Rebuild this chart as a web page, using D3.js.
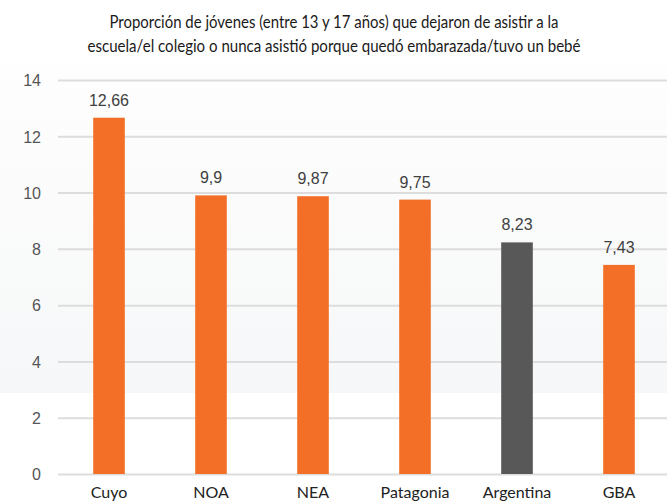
<!DOCTYPE html>
<html>
<head>
<meta charset="utf-8">
<script src="https://cdn.jsdelivr.net/npm/d3@7/dist/d3.min.js"></script>
<style>
  html, body { margin: 0; padding: 0; background: #ffffff; }
  svg { display: block; }
</style>
</head>
<body>
<svg id="chart" width="667" height="503"></svg>
<script>
// Regions and the share of young people (13-17) who left school due to pregnancy/birth
const categories = ["Cuyo", "NOA", "NEA", "Patagonia", "Argentina", "GBA"];
const values = [12.66, 9.9, 9.87, 9.75, 8.23, 7.43];
const valueLabels = ["12,66", "9,9", "9,87", "9,75", "8,23", "7,43"];
const yTicks = [0, 2, 4, 6, 8, 10, 12, 14];
const titleLines = [
  "Proporción de jóvenes (entre 13 y 17 años) que dejaron de asistir a la",
  "escuela/el colegio o nunca asistió porque quedó embarazada/tuvo un bebé"
];

const W = 667, H = 503;
const plot = { left: 58, right: 670, top: 80, bottom: 474 };
const orange = "#f36f27";
const grey = "#575857";

const svg = d3.select("#chart");

// soft backdrop behind the upper plot area
const defs = svg.append("defs");
const grad = defs.append("linearGradient")
  .attr("id", "bg").attr("x1", 0).attr("y1", 0).attr("x2", 0).attr("y2", 1);
grad.append("stop").attr("offset", "0%").attr("stop-color", "#fefefe");
grad.append("stop").attr("offset", "100%").attr("stop-color", "#f6f7f8");
svg.append("rect")
  .attr("x", 0).attr("y", 62).attr("width", W).attr("height", 331)
  .attr("fill", "url(#bg)");

const x = d3.scaleBand()
  .domain(categories)
  .range([plot.left, plot.right])
  .paddingInner(0.69)
  .paddingOuter(0.345);

const y = d3.scaleLinear()
  .domain([0, 14])
  .range([plot.bottom, plot.top]);

// horizontal gridlines + tick labels
const yAxis = d3.axisLeft(y).tickValues(yTicks).tickSize(0).tickPadding(0)
  .tickFormat(d3.format("d"));
const gy = svg.append("g").attr("transform", `translate(${plot.left},0)`).call(yAxis);
gy.select(".domain").remove();
gy.selectAll(".tick line").remove();
gy.selectAll(".tick").insert("line", "text")
  .attr("x1", 0).attr("x2", W - plot.left)
  .attr("stroke", "#dddddd").attr("stroke-width", 2);
gy.selectAll(".tick text")
  .attr("x", -17)
  .attr("dy", "0.36em")
  .attr("fill", "#555555")
  .style("font-family", "'Liberation Sans', Arial, sans-serif")
  .style("font-size", "16px");

// bars
svg.append("g").selectAll("rect")
  .data(categories)
  .join("rect")
  .attr("x", d => x(d))
  .attr("y", (d, i) => y(values[i]))
  .attr("width", x.bandwidth())
  .attr("height", (d, i) => y(0) - y(values[i]))
  .attr("fill", d => d === "Argentina" ? grey : orange);

// value labels
svg.append("g").selectAll("text")
  .data(categories)
  .join("text")
  .attr("x", d => x(d) + x.bandwidth() / 2)
  .attr("y", (d, i) => y(values[i]) - 12)
  .attr("text-anchor", "middle")
  .attr("fill", "#404040")
  .style("font-family", "'Liberation Sans', Arial, sans-serif")
  .style("font-size", "16px")
  .text((d, i) => valueLabels[i]);

// category labels
const xAxis = d3.axisBottom(x).tickSize(0).tickPadding(0);
const gx = svg.append("g").attr("transform", `translate(0,${plot.bottom})`).call(xAxis);
gx.select(".domain").remove();
gx.selectAll(".tick text")
  .attr("y", 24)
  .attr("dy", 0)
  .attr("fill", "#222222")
  .style("font-family", "Lato, 'Open Sans', sans-serif")
  .style("font-size", "16px");

// title
const titleWidths = [449, 493];
const title = svg.append("g");
titleLines.forEach((line, i) => {
  title.append("text")
    .attr("x", 334)
    .attr("y", 28 + i * 24)
    .attr("text-anchor", "middle")
    .attr("fill", "#1a1a1a")
    .style("font-family", "Lato, 'Open Sans', sans-serif")
    .style("font-size", "16.5px")
    .attr("textLength", titleWidths[i])
    .attr("lengthAdjust", "spacingAndGlyphs")
    .text(line);
});
</script>
</body>
</html>
